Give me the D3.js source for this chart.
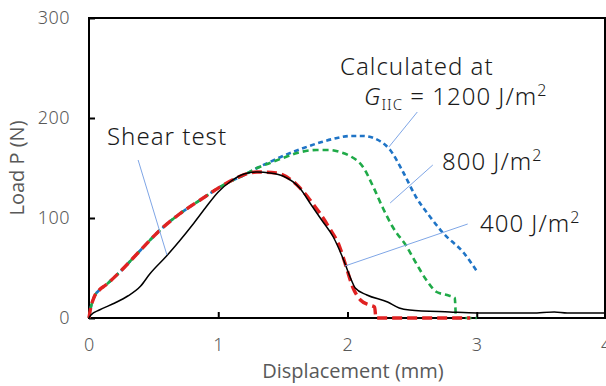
<!DOCTYPE html>
<html>
<head>
<meta charset="utf-8">
<script src="https://cdn.jsdelivr.net/npm/d3@7"></script>
<style>
  body { margin: 0; background: #fff; }
  svg { display: block; }
  .tick text { fill: #595959; font-family: "Noto Sans", sans-serif; font-size: 18px; font-weight: 300; letter-spacing: 0.5px; }
  .note { fill: #1a1a1a; font-family: "Noto Sans", sans-serif; font-size: 24px; font-weight: 300; letter-spacing: 1px; }
  .title { fill: #595959; font-family: "Open Sans", sans-serif; font-size: 20px; }
</style>
</head>
<body>
<div id="chart"></div>
<script>
// Load-displacement curves: shear test vs calculated at three G_IIC values

// axis ticks
const xTicks = [0, 1, 2, 3, 4];
const yTicks = [0, 100, 200, 300];

// shear test (measured)
const shearDisp = [0, 0.015, 0.08, 0.2, 0.3, 0.4, 0.47, 0.6, 0.7, 0.8, 0.9, 1.0, 1.1, 1.2, 1.3, 1.4, 1.5, 1.63, 1.72, 1.8, 1.89, 1.97, 2.02, 2.06, 2.15, 2.31, 2.4, 2.48, 2.79, 3.0, 3.43, 3.6, 3.7, 4.0];
const shearLoad = [0, 3, 8, 15, 22, 32, 44, 62, 77, 93, 110, 126, 137, 144, 146, 145, 142, 130, 113, 98, 81, 58, 41, 30, 23, 16, 10, 8, 6, 5, 5, 6, 5, 5];

// calculated, 1200 J/m2
const g1200Disp = [0, 0.01, 0.04, 0.08, 0.13, 0.23, 0.4, 0.55, 0.7, 0.86, 1.04, 1.2, 1.3, 1.4, 1.5, 1.66, 1.8, 1.92, 2.02, 2.12, 2.25, 2.33, 2.43, 2.53, 2.64, 2.74, 2.9, 3.0];
const g1200Load = [0, 8, 21, 28, 33, 45, 68, 88, 104, 118, 133, 143, 150, 156, 162, 170, 176, 180, 182, 182, 177, 168, 146, 121, 101, 85, 65, 47];

// calculated, 800 J/m2
const g800Disp = [0, 0.01, 0.04, 0.08, 0.13, 0.23, 0.4, 0.55, 0.7, 0.86, 1.04, 1.2, 1.3, 1.4, 1.5, 1.61, 1.76, 1.86, 1.94, 2.02, 2.12, 2.2, 2.27, 2.35, 2.46, 2.53, 2.61, 2.69, 2.77, 2.83, 2.84, 3.0];
const g800Load = [0, 8, 21, 28, 33, 45, 68, 88, 104, 118, 133, 143, 150, 155, 160, 165, 168, 168, 166, 162, 151, 131, 111, 91, 71, 55, 38, 26, 23, 20, 0, 0];

// calculated, 400 J/m2
const g400Disp = [0, 0.01, 0.04, 0.08, 0.13, 0.23, 0.4, 0.55, 0.7, 0.86, 1.04, 1.14, 1.3, 1.45, 1.61, 1.71, 1.86, 1.94, 1.99, 2.04, 2.1, 2.17, 2.21, 2.22, 2.95];
const g400Load = [0, 8, 21, 28, 33, 45, 68, 88, 104, 118, 133, 140, 146, 145, 133, 118, 90, 71, 51, 31, 18, 13, 11, 0, 0];

const width = 606, height = 386;

const svg = d3.select('#chart')
    .append('svg')
    .attr('width', width)
    .attr('height', height);

const x = d3.scaleLinear().domain([0, 4]).range([89, 606]);
const y = d3.scaleLinear().domain([0, 300]).range([318, 18]);

// frame
svg.append('rect')
    .attr('x', x(0))
    .attr('y', y(300))
    .attr('width', 605 - x(0))
    .attr('height', y(0) - y(300))
    .attr('fill', 'none')
    .attr('stroke', '#000')
    .attr('stroke-width', 2);

// axes with inward ticks
const xAxis = svg.append('g')
    .attr('transform', `translate(0,${y(0)})`)
    .call(d3.axisBottom(x).tickValues(xTicks).tickSizeInner(-6).tickSizeOuter(0).tickPadding(20).tickFormat(d3.format('d')));
xAxis.select('.domain').remove();
xAxis.selectAll('line').attr('stroke', '#000').attr('stroke-width', 2);

const yAxis = svg.append('g')
    .attr('transform', `translate(${x(0)},0)`)
    .call(d3.axisLeft(y).tickValues(yTicks).tickSizeInner(-6).tickSizeOuter(0).tickPadding(19));
yAxis.select('.domain').remove();
yAxis.selectAll('line').attr('stroke', '#000').attr('stroke-width', 2);

// axis titles
svg.append('text')
    .attr('class', 'title')
    .attr('x', 353)
    .attr('y', 378)
    .attr('text-anchor', 'middle')
    .text('Displacement (mm)');

svg.append('text')
    .attr('class', 'title')
    .attr('transform', `translate(24,${(y(0) + y(300)) / 2}) rotate(-90)`)
    .attr('text-anchor', 'middle')
    .text('Load P (N)');

// curves
const line = d3.line()
    .x(d => x(d[0]))
    .y(d => y(d[1]))
    .curve(d3.curveMonotoneX);

const series = [
    { xs: g1200Disp, ys: g1200Load, color: '#1f74c6', width: 2.6, dash: '5,3.5' },
    { xs: g800Disp, ys: g800Load, color: '#1faa48', width: 2.6, dash: '6,4' },
    { xs: g400Disp, ys: g400Load, color: '#e02222', width: 3.4, dash: '10,5' },
    { xs: shearDisp, ys: shearLoad, color: '#000', width: 1.5, dash: null }
];

series.forEach(s => {
    svg.append('path')
        .datum(d3.zip(s.xs, s.ys))
        .attr('d', line)
        .attr('fill', 'none')
        .attr('stroke', s.color)
        .attr('stroke-width', s.width)
        .attr('stroke-dasharray', s.dash);
});

// leader lines (data coordinates)
const leaders = [
    [[0.38, 158], [0.603, 63]],
    [[2.54, 206], [2.32, 171]],
    [[2.66, 153], [2.33, 115]],
    [[2.93, 94], [1.98, 52]]
];
leaders.forEach(l => {
    svg.append('line')
        .attr('x1', x(l[0][0])).attr('y1', y(l[0][1]))
        .attr('x2', x(l[1][0])).attr('y2', y(l[1][1]))
        .attr('stroke', '#7fa6e6')
        .attr('stroke-width', 1);
});

// annotation text
svg.append('text').attr('class', 'note').attr('x', 107).attr('y', 145).text('Shear test');
svg.append('text').attr('class', 'note').attr('x', 340).attr('y', 75).text('Calculated at');

const g = svg.append('text').attr('class', 'note').attr('x', 364).attr('y', 105);
g.append('tspan').attr('font-style', 'italic').text('G');
g.append('tspan').attr('font-size', 15).attr('dy', 5).text('IIC');
g.append('tspan').attr('dy', -5).text(' = 1200 J/m');
g.append('tspan').attr('font-size', 16).attr('dy', -9).text('2');

function unitLabel(text, px, py) {
    const t = svg.append('text').attr('class', 'note').attr('x', px).attr('y', py);
    t.append('tspan').text(text + ' J/m');
    t.append('tspan').attr('font-size', 16).attr('dy', -9).text('2');
}
unitLabel('800', 442, 170);
unitLabel('400', 480, 232);
</script>
</body>
</html>
